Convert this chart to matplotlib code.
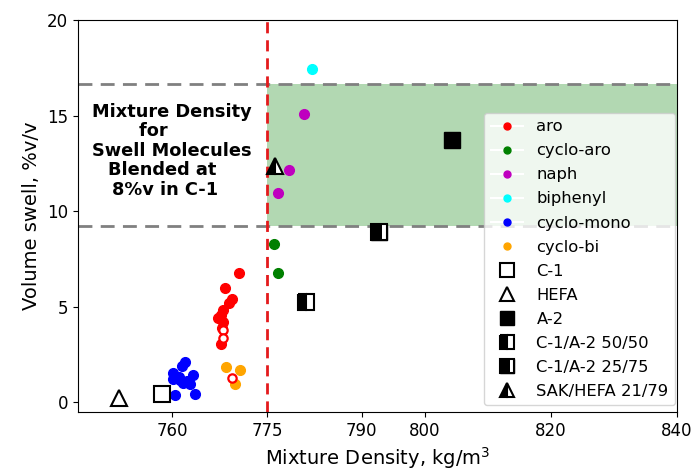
import matplotlib.pyplot as plt
import numpy as np
from matplotlib.lines import Line2D
from matplotlib.path import Path

# swell molecules blended at 8%v in C-1: (density, swell)
aro_x = [770.6, 768.4, 769.5, 769.0, 768.1, 767.7, 767.3, 768.1, 767.9, 767.7]
aro_y = [6.75, 5.97, 5.39, 5.18, 4.82, 4.55, 4.40, 4.19, 3.87, 3.04]
aro_open_x = [768.1, 768.1, 769.5]
aro_open_y = [3.77, 3.35, 1.26]
cyclo_aro_x = [776.2, 776.8]
cyclo_aro_y = [8.27, 6.75]
naph_x = [780.8, 778.5, 776.8]
naph_y = [15.08, 12.15, 10.94]
biphenyl_x = [782.2]
biphenyl_y = [17.45]
cyclo_mono_x = [762.0, 761.5, 760.1, 763.3, 760.1, 761.2, 761.7, 762.8, 760.4, 763.6, 761.0, 762.3]
cyclo_mono_y = [2.09, 1.88, 1.52, 1.41, 1.20, 1.15, 0.99, 0.94, 0.37, 0.42, 1.30, 1.10]
cyclo_bi_x = [768.5, 770.8, 770.0]
cyclo_bi_y = [1.83, 1.68, 0.94]

# reference fuels and blends
c1 = (758.4, 0.45)
hefa = (751.5, 0.22)
a2 = (804.3, 13.72)
c1a2_5050 = (781.2, 5.24)
c1a2_2575 = (792.7, 8.90)
sak_hefa = (776.3, 12.35)

dens_line = 775
band_lo, band_hi = 9.2, 16.65

plt.figure(figsize=(7, 4.75), dpi=100)
ax = plt.gca()
plt.subplots_adjust(left=0.111, right=0.967, top=0.958, bottom=0.133)

ax.fill_between([dens_line, 840], band_lo, band_hi, color='green', alpha=0.3, lw=0, zorder=0)
ax.axhline(band_lo, color='gray', ls=(0, (5, 3)), lw=2, zorder=1)
ax.axhline(band_hi, color='gray', ls=(0, (5, 3)), lw=2, zorder=1)
ax.axvline(dens_line, color='#e41a1c', ls=(0, (4, 2.5)), lw=2, zorder=1)

ms = 7
ax.plot(aro_x, aro_y, 'o', color='red', ms=ms, zorder=3)
ax.plot(aro_open_x, aro_open_y, 'o', mfc='white', mec='red', mew=1.6, ms=6, zorder=4)
ax.plot(cyclo_aro_x, cyclo_aro_y, 'o', color='green', ms=ms, zorder=3)
ax.plot(naph_x, naph_y, 'o', color='m', ms=ms, zorder=3)
ax.plot(biphenyl_x, biphenyl_y, 'o', color='cyan', ms=ms, zorder=3)
ax.plot(cyclo_mono_x, cyclo_mono_y, 'o', color='blue', ms=ms, zorder=3)
ax.plot(cyclo_bi_x, cyclo_bi_y, 'o', color='orange', ms=ms, zorder=3)

sq = 12
band = Path([(0.2, -0.5), (0.45, -0.5), (0.45, 0.5), (0.2, 0.5), (0.2, -0.5)])
ax.plot(*c1, 's', mfc='white', mec='black', mew=1.5, ms=sq, zorder=5)
ax.plot(*hefa, '^', mfc='white', mec='black', mew=1.5, ms=sq, zorder=5)
ax.plot(*a2, 's', color='black', ms=sq, zorder=5)
ax.plot(*c1a2_5050, 's', fillstyle='left', mfc='black', mfcalt='white', mec='black', mew=1.5, ms=sq, zorder=5)
ax.plot(*c1a2_2575, 's', color='black', ms=sq, zorder=5)
ax.plot(*c1a2_2575, marker=band, color='white', mew=0, ms=sq, zorder=6)
ax.plot(*c1a2_2575, 's', mfc='none', mec='black', mew=1.5, ms=sq, zorder=7)
ax.plot(*sak_hefa, '^', fillstyle='left', mfc='black', mfcalt='white', mec='black', mew=1.5, ms=sq, zorder=5)

ax.text(759.9, 13.15, "Mixture Density\nfor      \nSwell Molecules\nBlended at   \n8%v in C-1  ",
        ha='center', va='center', multialignment='center', fontsize=12.8, fontweight='bold',
        linespacing=1.1, zorder=8)

def dot(c):
    return Line2D([], [], color='white', lw=1.5, marker='o', ms=5, mfc=c, mec=c)

lsq = 10
h_2575 = (Line2D([], [], ls='none', marker='s', color='black', ms=lsq),
          Line2D([], [], ls='none', marker=band, color='white', mew=0, ms=lsq),
          Line2D([], [], ls='none', marker='s', mfc='none', mec='black', mew=1.5, ms=lsq))
handles = [dot('red'), dot('green'), dot('m'), dot('cyan'), dot('blue'), dot('orange'),
           Line2D([], [], ls='none', marker='s', mfc='white', mec='black', mew=1.5, ms=lsq),
           Line2D([], [], ls='none', marker='^', mfc='white', mec='black', mew=1.5, ms=lsq),
           Line2D([], [], ls='none', marker='s', color='black', ms=lsq),
           Line2D([], [], ls='none', marker='s', fillstyle='left', mfc='black', mfcalt='white', mec='black', mew=1.5, ms=lsq),
           h_2575,
           Line2D([], [], ls='none', marker='^', fillstyle='left', mfc='black', mfcalt='white', mec='black', mew=1.5, ms=lsq)]
labels = ['aro', 'cyclo-aro', 'naph', 'biphenyl', 'cyclo-mono', 'cyclo-bi',
          'C-1', 'HEFA', 'A-2', 'C-1/A-2 50/50', 'C-1/A-2 25/75', 'SAK/HEFA 21/79']
ax.legend(handles, labels, loc='lower right', bbox_to_anchor=(0.997, 0.017),
          borderaxespad=0, fontsize=11.8, labelspacing=0.55)

ax.set_xlim(745, 840)
ax.set_ylim(-0.5, 20)
ax.set_xticks([760, 775, 790, 800, 820, 840])
ax.set_yticks([0, 5, 10, 15, 20])
ax.tick_params(labelsize=12)
ax.set_xlabel("Mixture Density, kg/m$^3$", fontsize=14)
ax.set_ylabel("Volume swell, %v/v", fontsize=14)

plt.savefig("out.png")
